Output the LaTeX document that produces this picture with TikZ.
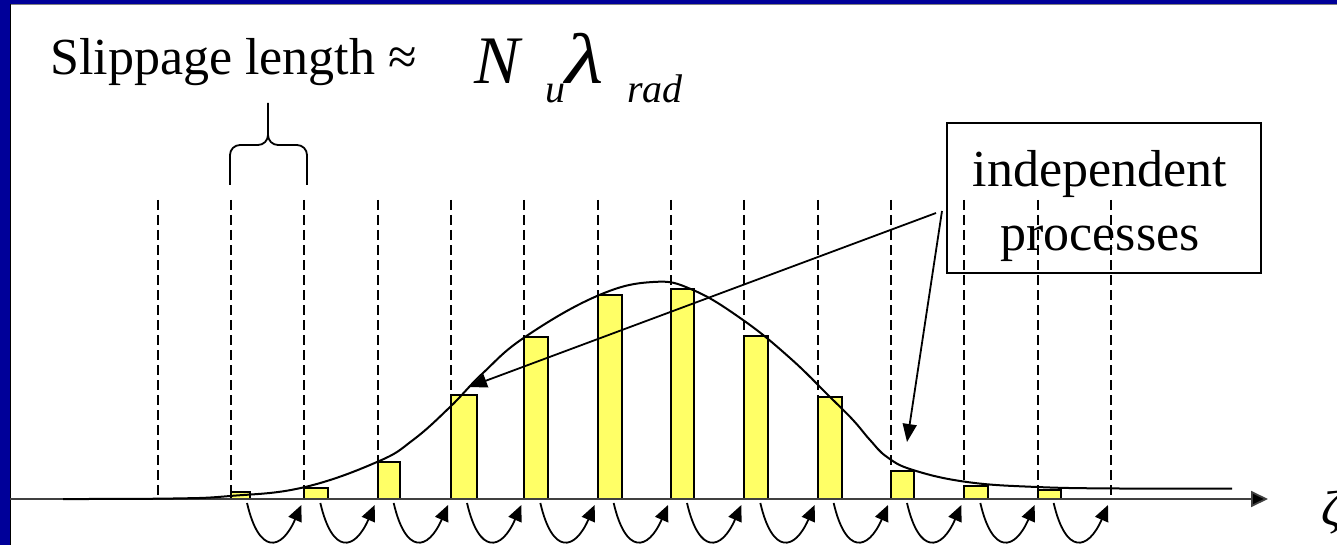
\documentclass[tikz,border=0pt]{standalone}
\usepackage{fontspec}
\setmainfont{Liberation Serif}
\usetikzlibrary{arrows.meta}
\definecolor{frameblue}{HTML}{000099}
\definecolor{baryellow}{HTML}{FFFF66}
\begin{document}
\begin{tikzpicture}[x=0.5pt,y=-0.5pt,
  guide/.style={dash pattern=on 5pt off 2.5pt, line width=0.8pt},
  barbox/.style={draw, fill=baryellow, line width=1pt},
  curveline/.style={line width=1pt},
  hop/.style={line width=0.9pt, -{Triangle[length=8pt,width=7pt]}},
  callout/.style={line width=0.9pt, -{Triangle[length=9pt,width=7pt]}},
  bigtext/.style={font=\fontsize{26}{30}\selectfont, inner sep=0pt},
  mathbig/.style={font=\fontsize{34}{36}\selectfont\itshape, inner sep=0pt},
  mathsub/.style={font=\fontsize{20}{22}\selectfont\itshape, inner sep=0pt}]
\useasboundingbox (0,0) rectangle (1337,545);
\clip (0,0) rectangle (1337,545);
% frame
\fill[frameblue] (0,0) rectangle (1337,4);
\fill[frameblue] (0,0) rectangle (10,545);
\draw[black, line width=0.6pt] (10.5,4.5) -- (10.5,545);
\draw[gray, line width=0.6pt] (10.5,4.5) -- (1337,4.5);
% title
\node[bigtext, anchor=base west] (title) at (50,75) {Slippage length ≈};
\node[mathbig, anchor=base west] (Nsym) at (474,84) {N};
\node[mathsub, anchor=base west] (usub) at (545,103) {u};
\node[mathbig, anchor=base west] (lam) at (565,84) {\scalebox{1.3}[1.05]{λ}};
\node[mathsub, anchor=base west] (radsub) at (627,103) {rad};
% brace
\draw[line width=0.9pt] (230,185) -- (230,155) to[out=90,in=180] (240,145) -- (258,145)
  to[out=0,in=-90] (268,135) -- (268,103);
\draw[line width=0.9pt] (307,185) -- (307,155) to[out=90,in=0] (297,145) -- (278,145)
  to[out=180,in=-90] (268,135);
% guides
\foreach \k in {0,...,13}{
  \pgfmathsetmacro{\gx}{round(157.7+73.33*\k)}
  \coordinate (g\k) at (\gx,499);
  \draw[guide] (\gx,200) -- (g\k);
}
% bars
\foreach \k/\top/\w in {1/492.3/19,2/487.7/24,3/461.7/22,4/395/26,5/336.5/24,6/295/24,7/289/23,8/336/24,9/396.7/24,10/471/23,11/486/24,12/490/23}{
  \pgfmathsetmacro{\bx}{round(157.7+73.33*\k)}
  \draw[barbox] (\bx,499) rectangle ++(\w,{\top-499});
}
% axis
\coordinate (axstart) at (10,499);
\coordinate (axend) at (1268,499);
\draw[line width=0.9pt, color=black!75, -{Triangle[length=8.5pt,width=8pt,fill=black]}] (axstart) -- (axend);
\node[font=\fontsize{25}{25}\selectfont\itshape, anchor=base west, inner sep=0pt] (zeta) at (1321,525) {ζ};
% curve
\draw[curveline] plot[smooth, tension=0.7] coordinates {(63,499) (173,498.5) (230,496) (303,487.5) (377,462) (413,440) (450,407) (483,373) (525,337) (597,296) (653,282) (693,290) (743,320) (790,358) (830,397) (853,420) (870,440) (887,457) (913,470) (967,482) (1037,487) (1120,488.5) (1232,488.5)};
% hops under axis
\foreach \k [evaluate=\k as \n using int(\k+1)] in {1,...,12}{
  \coordinate (hs\k) at ({157.7+73.33*\k+16},503);
  \coordinate (he\k) at ({157.7+73.33*\n-3},505);
  \draw[hop] (hs\k) .. controls ++(12,52) and ++(-20,46) .. (he\k);
}
% box
\node[draw, line width=1pt, minimum width=157pt, minimum height=75pt, inner sep=0pt] (procbox) at (1104,198) {};
\node[bigtext, anchor=base] (proc1) at (1100,187) {independent};
\node[bigtext, anchor=base] (proc2) at (1100,250) {processes};
% callouts
\coordinate (srcA) at (936,213);
\coordinate (srcB) at (942,211);
\coordinate (tgtA) at (469,387);
\coordinate (tgtB) at (907,442);
\draw[callout] (srcA) -- (tgtA);
\draw[callout] (srcB) -- (tgtB);
\end{tikzpicture}
\end{document}
